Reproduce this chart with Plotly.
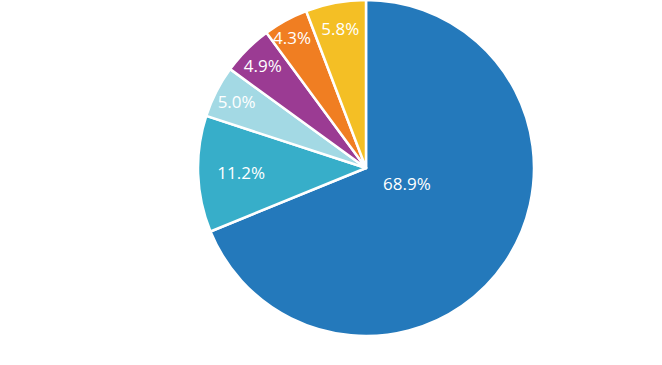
import plotly.graph_objects as go

labels = ["A", "B", "C", "D", "E", "F"]
values = [68.9, 11.2, 5.0, 4.9, 4.3, 5.8]
colors = ["#2479bb", "#37aec9", "#a3d9e4", "#9b3b93", "#f07e22", "#f4bf25"]

# labels drawn by annotation (index -> paper position) to avoid auto shrinking/placement
annot_pos = {0: (407/662, 1-183/365), 4: (292/662, 1-37/365)}

texts = ["" if i in annot_pos else f"{v:.1f}%" for i, v in enumerate(values)]

fig = go.Figure(go.Pie(
    labels=labels,
    values=values,
    sort=False,
    direction="clockwise",
    rotation=0,
    marker=dict(colors=colors, line=dict(color="white", width=2.5)),
    text=texts,
    texttemplate="%{text}",
    textposition="inside",
    insidetextorientation="horizontal",
    textfont=dict(family="Open Sans", size=17, color="white"),
    hoverinfo="label+percent",
    domain=dict(x=[197/662, 535/662], y=[29/365, 1.0]),
    showlegend=False,
))
for i, (ax, ay) in annot_pos.items():
    fig.add_annotation(
        x=ax, y=ay, xref="paper", yref="paper",
        xanchor="center", yanchor="middle",
        text=f"{values[i]:.1f}%", showarrow=False,
        font=dict(family="Open Sans", size=17, color="white"),
    )
fig.update_layout(
    width=662, height=365,
    margin=dict(l=0, r=0, t=0, b=0),
    paper_bgcolor="white",
    plot_bgcolor="white",
)
fig.write_html("out.html")
